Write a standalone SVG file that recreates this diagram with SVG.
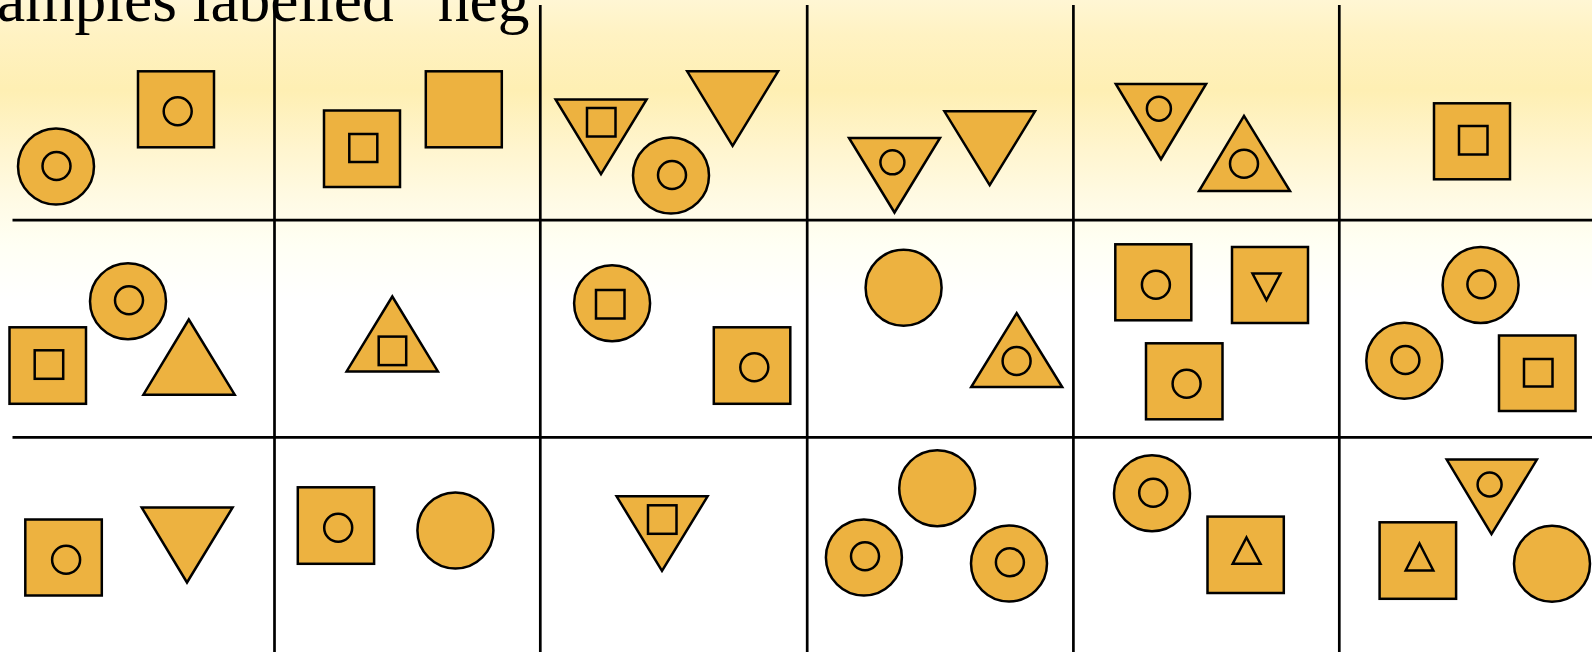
<svg xmlns="http://www.w3.org/2000/svg" width="1592" height="652" viewBox="0 0 1592 652">
<defs>
<linearGradient id="bg" x1="0" y1="0" x2="0" y2="300" gradientUnits="userSpaceOnUse">
<stop offset="0" stop-color="#FFF6D4"/>
<stop offset="0.12" stop-color="#FFF2C2"/>
<stop offset="0.3" stop-color="#FEEFB3"/>
<stop offset="0.5" stop-color="#FFF5CF"/>
<stop offset="0.68" stop-color="#FFFBE6"/>
<stop offset="0.82" stop-color="#FFFFF4"/>
<stop offset="1" stop-color="#FFFFFF"/>
</linearGradient>
<style>
.s{fill:#EDB240;stroke:#000;stroke-width:2.5}
.i{fill:none;stroke:#000;stroke-width:2.5}
.g{stroke:#000;stroke-width:2.7;fill:none}
.t{font-family:"Liberation Serif","Times New Roman",serif;font-size:63.5px;fill:#000}
</style>
</defs>
<rect x="0" y="0" width="1592" height="652" fill="#FFFFFF"/>
<rect x="0" y="0" width="1592" height="300" fill="url(#bg)"/>
<text class="t" x="-3" y="21">amples labelled “neg</text>
<g id="grid">
<line class="g" x1="274.5" y1="5" x2="274.5" y2="652"/>
<line class="g" x1="540.3" y1="5" x2="540.3" y2="652"/>
<line class="g" x1="807.2" y1="5" x2="807.2" y2="652"/>
<line class="g" x1="1073.4" y1="5" x2="1073.4" y2="652"/>
<line class="g" x1="1339.3" y1="5" x2="1339.3" y2="652"/>
<line class="g" x1="12.5" y1="220.2" x2="1592" y2="220.2"/>
<line class="g" x1="12.5" y1="437.3" x2="1592" y2="437.3"/>
</g>
<g id="r1c1">
<circle class="s" cx="56" cy="166.5" r="38"/><circle class="i" cx="56.5" cy="166" r="14"/>
<rect class="s" x="138" y="71.3" width="76" height="76"/><circle class="i" cx="177.7" cy="111.2" r="14"/>
</g>
<g id="r1c2">
<rect class="s" x="324" y="110.5" width="76" height="76.5"/><rect class="i" x="349.3" y="134" width="28" height="28"/>
<rect class="s" x="425.8" y="71.3" width="76" height="76"/>
</g>
<g id="r1c3">
<polygon class="s" points="555.6,99.5 646.6,99.5 601,174.2"/><rect class="i" x="587" y="108" width="28.5" height="28.5"/>
<circle class="s" cx="671" cy="175.5" r="38"/><circle class="i" cx="672" cy="175" r="14"/>
<polygon class="s" points="687.2,71.3 778.1,71.3 732.6,145.8"/>
</g>
<g id="r1c4">
<polygon class="s" points="849,138 940,138 894.5,212.5"/><circle class="i" cx="892.4" cy="162.3" r="12"/>
<polygon class="s" points="944.4,111.3 1035,111.3 989.7,185.2"/>
</g>
<g id="r1c5">
<polygon class="s" points="1115.8,84 1206.1,84 1161,159.2"/><circle class="i" cx="1158.9" cy="108.7" r="12"/>
<polygon class="s" points="1244,115.8 1290,191 1199,191"/><circle class="i" cx="1244" cy="163.7" r="14"/>
</g>
<g id="r1c6">
<rect class="s" x="1434" y="103.3" width="76" height="76"/><rect class="i" x="1459" y="126" width="28.5" height="28.5"/>
</g>
<g id="r2c1">
<rect class="s" x="9.5" y="327.3" width="76.5" height="76.5"/><rect class="i" x="34.7" y="350.3" width="28.5" height="28.5"/>
<circle class="s" cx="128" cy="301.3" r="38"/><circle class="i" cx="129" cy="300.3" r="14"/>
<polygon class="s" points="188.8,319.5 234.7,394.7 143.4,394.7"/>
</g>
<g id="r2c2">
<polygon class="s" points="392.3,296.5 437.9,371.4 346.6,371.4"/><rect class="i" x="378.7" y="336.6" width="27.5" height="28.5"/>
</g>
<g id="r2c3">
<circle class="s" cx="612.1" cy="303.3" r="38"/><rect class="i" x="596" y="290" width="28.5" height="28.5"/>
<rect class="s" x="713.8" y="327.3" width="76.5" height="76.5"/><circle class="i" cx="754.3" cy="367.3" r="14"/>
</g>
<g id="r2c4">
<circle class="s" cx="903.6" cy="287.8" r="38"/>
<polygon class="s" points="1016.7,313.2 1062.2,387 971.2,387"/><circle class="i" cx="1016.6" cy="361" r="14"/>
</g>
<g id="r2c5">
<rect class="s" x="1115.3" y="244.3" width="76" height="76"/><circle class="i" cx="1155.9" cy="284.7" r="14"/>
<rect class="s" x="1232" y="247" width="76" height="76"/><polygon class="i" points="1252.5,273.5 1280.5,273.5 1266.5,300"/>
<rect class="s" x="1146" y="343.3" width="76.5" height="76"/><circle class="i" cx="1186.6" cy="383.7" r="14"/>
</g>
<g id="r2c6">
<circle class="s" cx="1480.6" cy="285" r="38"/><circle class="i" cx="1481.4" cy="284.2" r="14"/>
<circle class="s" cx="1404.3" cy="360.7" r="38"/><circle class="i" cx="1405.4" cy="360" r="14"/>
<rect class="s" x="1499" y="335.5" width="76.5" height="75.5"/><rect class="i" x="1524" y="359" width="28.5" height="27.5"/>
</g>
<g id="r3c1">
<rect class="s" x="25.3" y="519.5" width="76.5" height="76"/><circle class="i" cx="66.1" cy="559.7" r="14"/>
<polygon class="s" points="141.7,507.5 232.6,507.5 187,582.5"/>
</g>
<g id="r3c2">
<rect class="s" x="297.8" y="487.3" width="76.3" height="76.5"/><circle class="i" cx="338.2" cy="527.7" r="14"/>
<circle class="s" cx="455.4" cy="530.5" r="38"/>
</g>
<g id="r3c3">
<polygon class="s" points="616.6,496.3 707.6,496.3 662,570.8"/><rect class="i" x="648" y="505.3" width="28.5" height="28.5"/>
</g>
<g id="r3c4">
<circle class="s" cx="937.2" cy="488.3" r="38"/>
<circle class="s" cx="863.9" cy="557.5" r="38"/><circle class="i" cx="865" cy="556.3" r="14"/>
<circle class="s" cx="1009" cy="563.5" r="38"/><circle class="i" cx="1009.9" cy="562.3" r="14"/>
</g>
<g id="r3c5">
<circle class="s" cx="1152" cy="493.3" r="38"/><circle class="i" cx="1153.2" cy="492.7" r="14"/>
<rect class="s" x="1207.5" y="516.6" width="76.3" height="76.4"/><polygon class="i" points="1246.5,537.5 1260.5,563.7 1232.7,563.7"/>
</g>
<g id="r3c6">
<rect class="s" x="1379.6" y="522.3" width="76.5" height="76.5"/><polygon class="i" points="1419.5,543.5 1433.3,570.4 1405.7,570.4"/>
<polygon class="s" points="1446.7,459.6 1536.9,459.6 1491.5,534.2"/><circle class="i" cx="1489.6" cy="484.5" r="12"/>
<circle class="s" cx="1552" cy="563.8" r="38"/>
</g>
</svg>
